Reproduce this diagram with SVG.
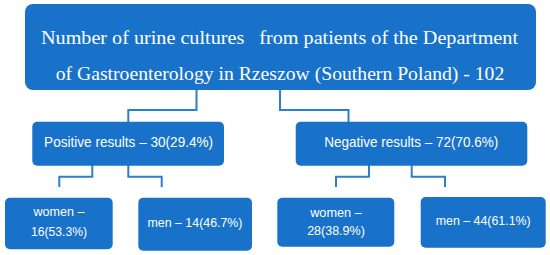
<svg xmlns="http://www.w3.org/2000/svg" width="550" height="255" viewBox="0 0 550 255">
<style>
.box{fill:#1872c9;}
.conn{fill:none;stroke:#2f7dd1;stroke-width:2;}
.serif{font-family:"Liberation Serif","Times New Roman",serif;font-size:19.5px;fill:#ffffff;white-space:pre;}
.sans{font-family:"Liberation Sans",Arial,sans-serif;fill:#ffffff;text-anchor:middle;}
.l2{font-size:14.3px;}
.l3{font-size:12.8px;}
</style>
<rect width="550" height="255" fill="#ffffff"/>
<g id="connectors">
<path class="conn" d="M196.5 90 V110 H128.3 V122"/>
<path class="conn" d="M280 90 V110 H348.5 V122"/>
<path class="conn" d="M92.3 165 V176.7 H59.3 V187"/>
<path class="conn" d="M128.3 165 V176.7 H161.7 V187"/>
<path class="conn" d="M369 165 V176.7 H336 V187"/>
<path class="conn" d="M411.7 165 V176.7 H445 V187"/>
</g>
<g id="root">
<rect class="box" x="25" y="4" width="511" height="86" rx="8"/>
<text class="serif" x="41" y="43.5" textLength="477" lengthAdjust="spacingAndGlyphs">Number of urine cultures   from patients of the Department</text>
<text class="serif" x="55.7" y="80" textLength="448.6" lengthAdjust="spacingAndGlyphs">of Gastroenterology in Rzeszow (Southern Poland) - 102</text>
</g>
<g id="positive">
<rect class="box" x="32.3" y="121.7" width="191.7" height="44" rx="5"/>
<text class="sans l2" x="128.6" y="146.7" textLength="169" lengthAdjust="spacingAndGlyphs">Positive results – 30(29.4%)</text>
</g>
<g id="negative">
<rect class="box" x="295.7" y="121.7" width="231.6" height="44" rx="5"/>
<text class="sans l2" x="411.3" y="146.7" textLength="174" lengthAdjust="spacingAndGlyphs">Negative results – 72(70.6%)</text>
</g>
<g id="women-positive">
<rect class="box" x="5" y="197.7" width="107.7" height="51.6" rx="5"/>
<text class="sans l3" x="59" y="216.3" textLength="51" lengthAdjust="spacingAndGlyphs">women –</text>
<text class="sans l3" x="59" y="236" textLength="56" lengthAdjust="spacingAndGlyphs">16(53.3%)</text>
</g>
<g id="men-positive">
<rect class="box" x="138.3" y="197.7" width="113.7" height="53" rx="5"/>
<text class="sans l3" x="195" y="226.7" textLength="95" lengthAdjust="spacingAndGlyphs">men – 14(46.7%)</text>
</g>
<g id="women-negative">
<rect class="box" x="277.3" y="197.7" width="117" height="49" rx="5"/>
<text class="sans l3" x="336" y="216.7" textLength="51.6" lengthAdjust="spacingAndGlyphs">women –</text>
<text class="sans l3" x="336" y="235" textLength="57.7" lengthAdjust="spacingAndGlyphs">28(38.9%)</text>
</g>
<g id="men-negative">
<rect class="box" x="420.7" y="197" width="125" height="50.7" rx="5"/>
<text class="sans l3" x="483.2" y="225" textLength="95" lengthAdjust="spacingAndGlyphs">men – 44(61.1%)</text>
</g>
</svg>
